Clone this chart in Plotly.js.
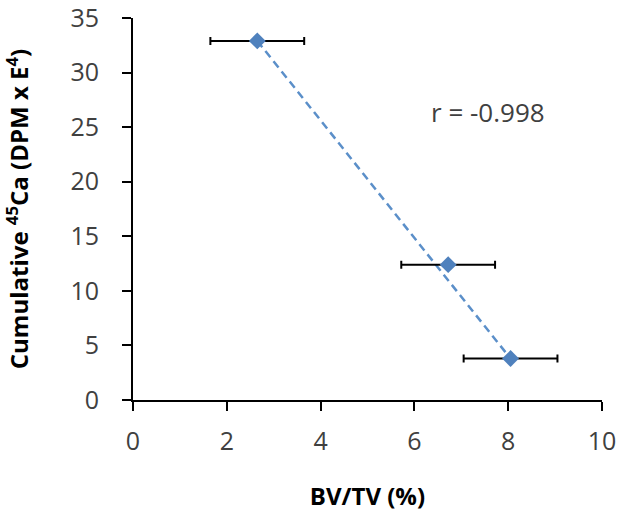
<!DOCTYPE html>
<html><head><meta charset="utf-8">
<script src="https://cdn.plot.ly/plotly-3.0.1.min.js"></script>
<style>html,body{margin:0;padding:0;background:#fff}#chart{width:629px;height:525px}</style>
</head><body><div id="chart"></div>
<script>
const bvtv = [2.65, 6.72, 8.05];
const ca45 = [32.9, 12.4, 3.8];
const bvtvErr = [1.0, 1.0, 1.0];
const trendX = [2.65, 8.05];
const trendY = [32.9, 3.8];
const xTicks = [0, 2, 4, 6, 8, 10];
const yTicks = [0, 5, 10, 15, 20, 25, 30, 35];
const rLabel = 'r = -0.998';

const font = 'Open Sans, Liberation Sans, sans-serif';
const data = [
  {x: trendX, y: trendY, mode: 'lines', type: 'scatter',
   line: {color: '#5B8FC9', width: 2.5, dash: '8px,5px'}, hoverinfo: 'skip'},
  {x: bvtv, y: ca45, mode: 'markers', type: 'scatter',
   marker: {symbol: 'diamond', size: 13, color: '#4F81BD'},
   error_x: {type: 'data', array: bvtvErr, visible: true, color: '#000', thickness: 2, width: 4}}
];
const layout = {
  width: 629, height: 525, showlegend: false,
  margin: {l: 133, r: 27, t: 18, b: 125},
  paper_bgcolor: '#fff', plot_bgcolor: '#fff',
  font: {family: font, color: '#404040'},
  xaxis: {range: [0, 10], tickvals: xTicks, ticks: 'outside', ticklen: 9, tickwidth: 2, tickcolor: '#000',
    showline: true, linecolor: '#000', linewidth: 2, showgrid: false, zeroline: false,
    ticklabelstandoff: 9, ticklabeloverflow: 'allow',
    tickfont: {size: 25, color: '#404040', family: font},
    title: {text: '<b>BV/TV (%)</b>', font: {size: 24, color: '#000', family: font}, standoff: 32}},
  yaxis: {range: [0, 35], tickvals: yTicks, ticks: 'outside', ticklen: 9, tickwidth: 2, tickcolor: '#000',
    showline: true, linecolor: '#000', linewidth: 2, showgrid: false, zeroline: false,
    ticklabelstandoff: 18, ticklabeloverflow: 'allow',
    tickfont: {size: 25, color: '#404040', family: font},
    title: {text: '<b>Cumulative <sup>45</sup>Ca (DPM x E<sup>4</sup>)</b>', font: {size: 24, color: '#000', family: font}, standoff: 36}},
  annotations: [{x: 7.57, y: 26.4, xref: 'x', yref: 'y', text: rLabel, showarrow: false,
    font: {size: 26, color: '#404040', family: font}}]
};
Plotly.newPlot('chart', data, layout, {displayModeBar: false, staticPlot: true});
</script></body></html>
